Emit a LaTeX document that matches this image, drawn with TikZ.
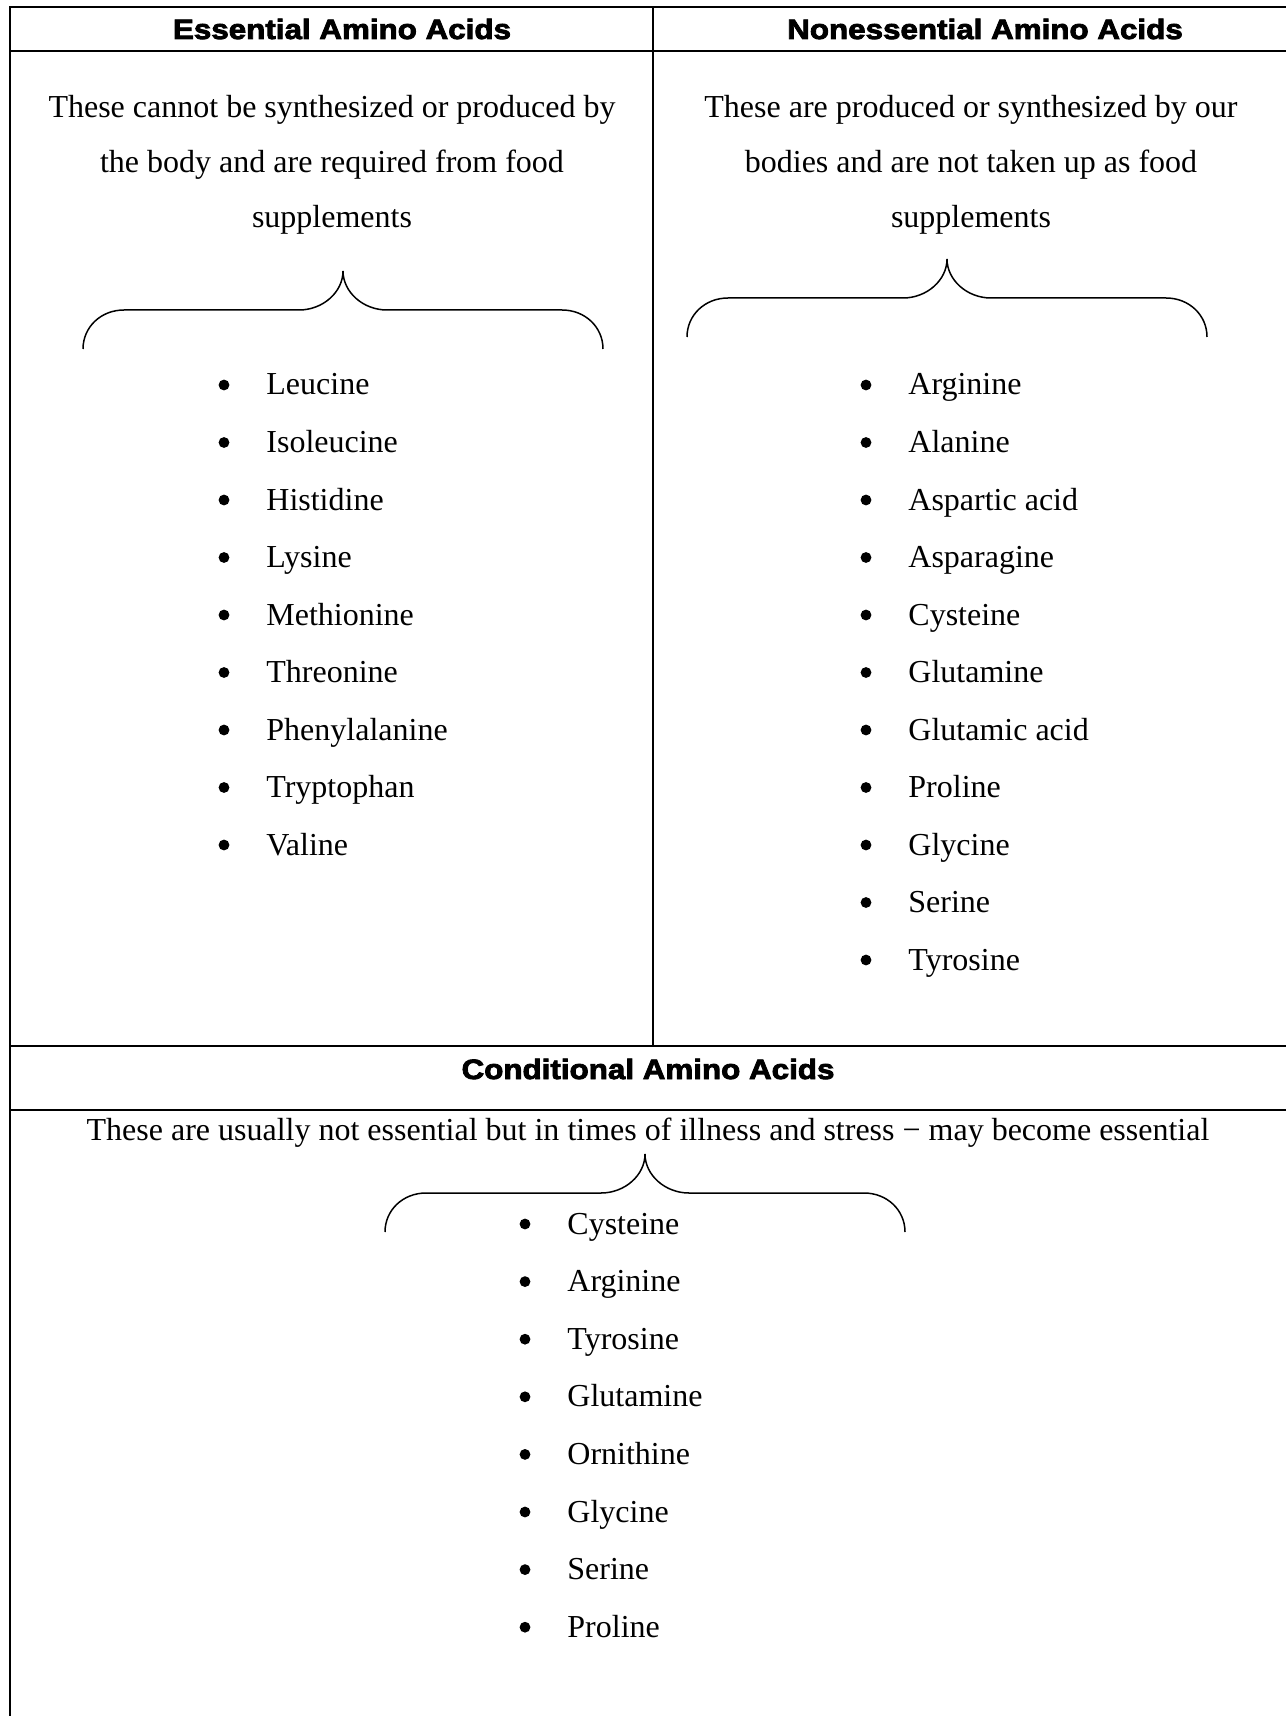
\documentclass[tikz,border=0pt]{standalone}
\usepackage{fontspec}
\setmainfont{Liberation Serif}
\newfontfamily\headfont{Liberation Sans Bold}[FakeBold=3,FakeStretch=1.12]

\begin{document}
\begin{tikzpicture}[x=0.5pt,y=-0.5pt,
	rule/.style={line width=1.3pt},
	divider/.style={line width=0.8pt},
	headtext/.style={inner sep=0pt, anchor=base, font=\headfont\fontsize{14}{16}\selectfont},
	desc/.style={inner sep=0pt, anchor=base, font=\fontsize{16}{19}\selectfont},
	item/.style={inner sep=0pt, anchor=base west, font=\fontsize{16}{19}\selectfont},
	curly/.pic={\draw[line width=0.75pt] (-260,78) .. controls (-260,56) and (-242,39) .. (-219,39) -- (-44,39) .. controls (-20,39) and (0,21) .. (0,0) .. controls (0,21) and (20,39) .. (44,39) -- (219,39) .. controls (242,39) and (260,56) .. (260,78);}
	]
	\useasboundingbox (0,0) rectangle (1286,1716);
	% table rules
	\draw[rule] (10,1716) -- (10,7) -- (1286,7);
	\draw[rule] (10,51) -- (1286,51);
	\draw[divider] (653,7) -- (653,1046);
	\draw[rule] (10,1046) -- (1286,1046);
	\draw[rule] (10,1110) -- (1286,1110);
	% headings
	\node[headtext] (esshead) at (342,39) {Essential Amino Acids};
	\node[headtext] (nonhead) at (985,39) {Nonessential Amino Acids};
	\node[headtext] (condhead) at (648,1079) {Conditional Amino Acids};
	% essential
	\foreach \txt [count=\i] in {These cannot be synthesized or produced by, the body and are required from food, supplements}
		\node[desc] (essnote\i) at (332,{118+55*(\i-1)}) {\txt};
	\pic at (343,271) {curly};
	\foreach \acid [count=\i] in {Leucine,Isoleucine,Histidine,Lysine,Methionine,Threonine,Phenylalanine,Tryptophan,Valine}{
		\node[item] (ess\i) at (266,{395+57.5*(\i-1)}) {\acid};
		\fill ([shift={(-42,-10)}]ess\i.base west) circle[radius=2.7pt];
	}
	% nonessential
	\foreach \txt [count=\i] in {These are produced or synthesized by our, bodies and are not taken up as food, supplements}
		\node[desc] (nonnote\i) at (971,{118+55*(\i-1)}) {\txt};
	\pic at (947,259) {curly};
	\foreach \acid [count=\i] in {Arginine,Alanine,Aspartic acid,Asparagine,Cysteine,Glutamine,Glutamic acid,Proline,Glycine,Serine,Tyrosine}{
		\node[item] (non\i) at (908,{395+57.5*(\i-1)}) {\acid};
		\fill ([shift={(-42,-10)}]non\i.base west) circle[radius=2.7pt];
	}
	% conditional
	\node[desc] (condnote) at (648,1140) {These are usually not essential but in times of illness and stress − may become essential};
	\pic at (645,1154) {curly};
	\foreach \acid [count=\i] in {Cysteine,Arginine,Tyrosine,Glutamine,Ornithine,Glycine,Serine,Proline}{
		\node[item] (cond\i) at (567,{1234+57.6*(\i-1)}) {\acid};
		\fill ([shift={(-42,-10)}]cond\i.base west) circle[radius=2.7pt];
	}
\end{tikzpicture}
\end{document}
